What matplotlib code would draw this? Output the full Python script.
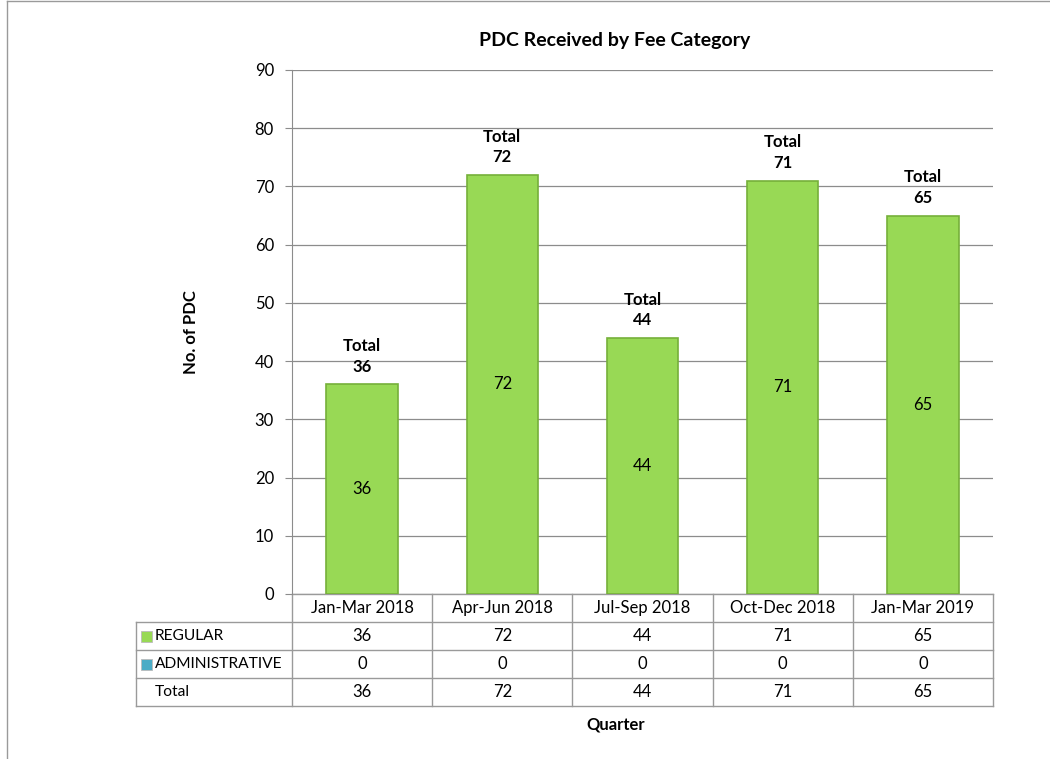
import numpy as np
from matplotlib import pyplot as plt
from matplotlib.patches import Rectangle
from matplotlib.lines import Line2D

plt.rcParams["font.family"] = ["Lato", "DejaVu Sans"]

quarters = ["Jan-Mar 2018", "Apr-Jun 2018", "Jul-Sep 2018", "Oct-Dec 2018", "Jan-Mar 2019"]
regular = [36, 72, 44, 71, 65]
administrative = [0, 0, 0, 0, 0]
totals = [r + a for r, a in zip(regular, administrative)]

green = "#98d955"
blue = "#4bacc6"
grid = "#8c8c8c"
fs = 12

fig = plt.figure(figsize=(10.5, 7.59), dpi=100)
ax = fig.add_axes([292 / 1050, 1 - 594 / 759, 701 / 1050, 524 / 759])

x = np.arange(len(quarters))
ax.bar(x, regular, width=0.51, color=green, edgecolor="#76b03a", linewidth=1.2, zorder=3)
ax.bar(x, administrative, bottom=regular, width=0.51, color=blue, zorder=3)

for xi, r, t in zip(x, regular, totals):
    ax.text(xi, r / 2, str(r), ha="center", va="center", fontsize=fs, zorder=4)
    ax.annotate(f"Total\n{t}", (xi, t), xytext=(0, 7), textcoords="offset points",
                ha="center", va="bottom", fontsize=fs, fontweight="bold", linespacing=1.35)

ax.set_xlim(-0.5, len(quarters) - 0.5)
ax.set_ylim(0, 90)
ax.set_yticks(range(0, 91, 10))
ax.yaxis.grid(True, color=grid, linewidth=0.9, zorder=0)
ax.set_axisbelow(True)
ax.set_xticks([])
for s in ["top", "right", "bottom"]:
    ax.spines[s].set_visible(False)
ax.spines["left"].set_color(grid)
ax.tick_params(axis="y", colors=grid, labelcolor="black", labelsize=fs, length=5, pad=8)
ax.set_ylabel("No. of PDC", fontsize=fs, fontweight="bold", labelpad=40)

ax.set_title("PDC Received by Fee Category", fontsize=14, fontweight="bold", x=0.46, pad=17)

# data table under the plot
row_h = 28 / 524
left = (136 - 292) / 701
tr = ax.transAxes
xtr = ax.get_xaxis_transform()  # x data, y axes
lw = 1.0
lc = "#9a9a9a"

ax.add_line(Line2D([0, 1], [0, 0], transform=tr, color=lc, lw=lw, clip_on=False))
for k in range(1, 5):
    ax.add_line(Line2D([left, 1], [-k * row_h] * 2, transform=tr, color=lc, lw=lw, clip_on=False))
for b in np.arange(-0.5, len(quarters), 1.0):
    ax.add_line(Line2D([b, b], [0, -4 * row_h], transform=xtr, color=lc, lw=lw, clip_on=False))
ax.add_line(Line2D([left, left], [-row_h, -4 * row_h], transform=tr, color=lc, lw=lw, clip_on=False))

rows = [quarters, regular, administrative, totals]
for k, vals in enumerate(rows):
    yc = -(k + 0.5) * row_h
    for xi, v in zip(x, vals):
        ax.text(xi, yc, str(v), transform=xtr, ha="center", va="center", fontsize=fs)

labels = ["REGULAR", "ADMINISTRATIVE", "Total"]
colors = [green, blue, None]
sq_w = 11 / 701
sq_h = 11 / 524
for k, (lab, c) in enumerate(zip(labels, colors)):
    yc = -(k + 1.5) * row_h
    if c is not None:
        ax.add_patch(Rectangle((left + 5 / 701, yc - sq_h / 2), sq_w, sq_h, transform=tr,
                               facecolor=c, edgecolor="#bbbbbb", lw=0.6, clip_on=False))
    ax.text(left + 19 / 701, yc, lab, transform=tr, ha="left", va="center", fontsize=11.2)

fig.text(616 / 1050, 1 - 724 / 759, "Quarter", ha="center", va="center",
         fontsize=fs, fontweight="bold")

# outer frame of the chart area
fig.add_artist(Line2D([7 / 1050, 7 / 1050], [0, 1 - 1 / 759], transform=fig.transFigure, color=lc, lw=1))
fig.add_artist(Line2D([7 / 1050, 1], [1 - 1 / 759] * 2, transform=fig.transFigure, color=lc, lw=1))

fig.savefig("out.png", dpi=100)
